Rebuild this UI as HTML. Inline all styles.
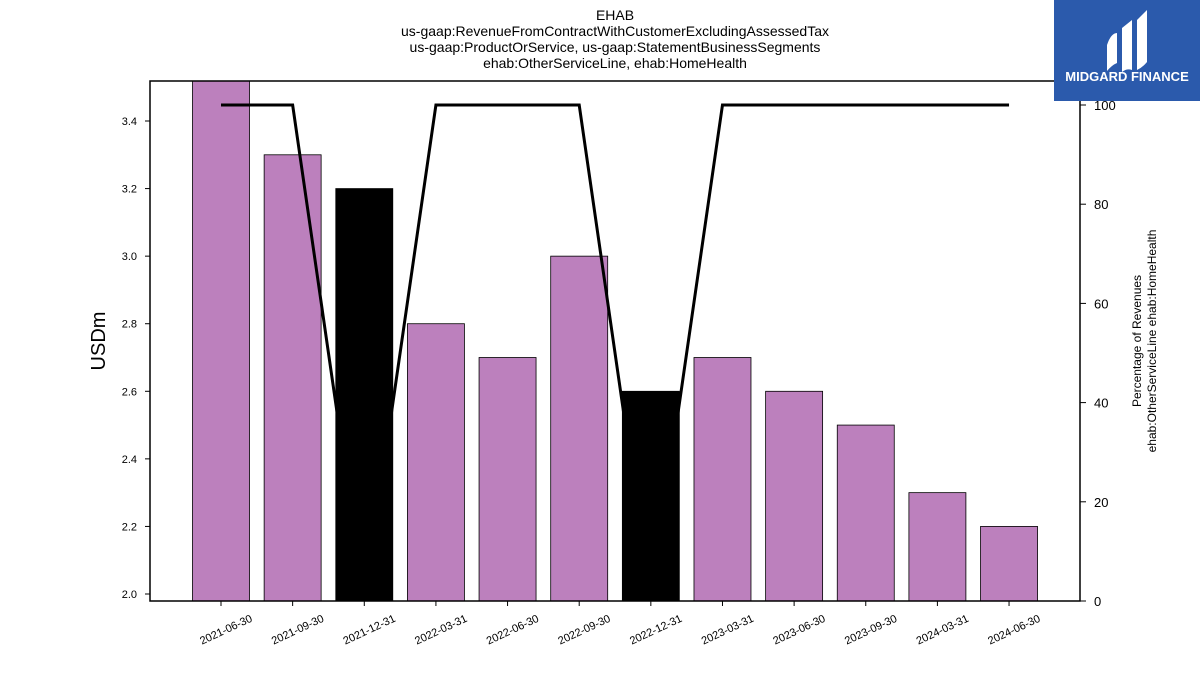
<!DOCTYPE html>
<html><head><meta charset="utf-8"><style>
body{margin:0;background:#fff;}
svg text{font-family:"Liberation Sans",sans-serif;}
</style></head><body>
<svg id="chart" width="1200" height="675" xmlns="http://www.w3.org/2000/svg">
<g font-size="14" text-anchor="middle" fill="#000">
<text x="615" y="20">EHAB</text>
<text x="615" y="36">us-gaap:RevenueFromContractWithCustomerExcludingAssessedTax</text>
<text x="615" y="52">us-gaap:ProductOrService, us-gaap:StatementBusinessSegments</text>
<text x="615" y="68">ehab:OtherServiceLine, ehab:HomeHealth</text>
</g>
<g id="bars"></g>
<g id="line"></g>
<rect x="150" y="81" width="930" height="520" fill="none" stroke="#000" stroke-width="1.5"/>
<g id="yleft"></g>
<g id="yright"></g>
<g id="xaxis"></g>
<text x="105" y="341" font-size="20" text-anchor="middle" transform="rotate(-90 105 341)">USDm</text>
<g font-size="12" text-anchor="middle">
<text x="1141" y="341" transform="rotate(-90 1141 341)">Percentage of Revenues</text>
<text x="1156" y="341" transform="rotate(-90 1156 341)">ehab:OtherServiceLine ehab:HomeHealth</text>
</g>
<g>
<rect x="1054" y="0" width="146" height="101" fill="#2b5aac"/>
<path d="M1107 45 q4-12 10-12 v30 q-5 2-10 8z" fill="#fff"/>
<path d="M1122 28 l10-8 v50 q-5-2-10 2z" fill="#fff"/>
<path d="M1137 20 l10-10 v52 q-4 5-10 8z" fill="#fff"/>
<text x="1127" y="81" font-size="13" font-weight="bold" fill="#fff" text-anchor="middle">MIDGARD FINANCE</text>
</g>
</svg>
<script>
const categories=["2021-06-30","2021-09-30","2021-12-31","2022-03-31","2022-06-30","2022-09-30","2022-12-31","2023-03-31","2023-06-30","2023-09-30","2024-03-31","2024-06-30"];
const revenues=[3.52,3.3,3.2,2.8,2.7,3.0,2.6,2.7,2.6,2.5,2.3,2.2];
const percentages=[100,100,0,100,100,100,0,100,100,100,100,100];
const leftTicks=[2.0,2.2,2.4,2.6,2.8,3.0,3.2,3.4];
const rightTicks=[0,20,40,60,80,100];
const NS="http://www.w3.org/2000/svg";
const yL=v=>594-(v-2.0)/0.2*67.57;
const yR=v=>601-v*4.96;
const xC=i=>221+i*71.64;
const bw=57;
function mk(t,a,p){const e=document.createElementNS(NS,t);for(const k in a)e.setAttribute(k,a[k]);p.appendChild(e);return e;}
const bars=document.getElementById('bars');
revenues.forEach((v,i)=>{
 const top=Math.max(81,yL(v));
 const r=mk('rect',{x:xC(i)-bw/2,y:top,width:bw,height:601-top,fill:percentages[i]<50?'#000':'#bc80bd',stroke:'#000','stroke-width':0.8},bars);
 
 
});
const lg=document.getElementById('line');
const pl=mk('polyline',{points:percentages.map((p,i)=>xC(i)+','+yR(p)).join(' '),fill:'none',stroke:'#000','stroke-width':3,'stroke-linejoin':'miter'},lg);


const yl=document.getElementById('yleft');
leftTicks.forEach(t=>{
 const y=yL(t);
 mk('line',{x1:145,x2:150,y1:y,y2:y,stroke:'#000'},yl);
 const tx=mk('text',{x:137,y:y+4,'font-size':11,'text-anchor':'end'},yl);tx.textContent=t.toFixed(1);
 
 
});
const yr=document.getElementById('yright');
rightTicks.forEach(t=>{
 const y=yR(t);
 mk('line',{x1:1080,x2:1086,y1:y,y2:y,stroke:'#000'},yr);
 const tx=mk('text',{x:1094,y:y+5,'font-size':13},yr);tx.textContent=t;
 
 
});
const xa=document.getElementById('xaxis');
categories.forEach((c,i)=>{
 const x=xC(i);
 mk('line',{x1:x,x2:x,y1:601,y2:606,stroke:'#000'},xa);
 const tx=mk('text',{x:x+32,y:621,'font-size':11,'text-anchor':'end',transform:`rotate(-25 ${x+32} 621)`},xa);tx.textContent=c;
 
 
});
</script>
</body></html>
